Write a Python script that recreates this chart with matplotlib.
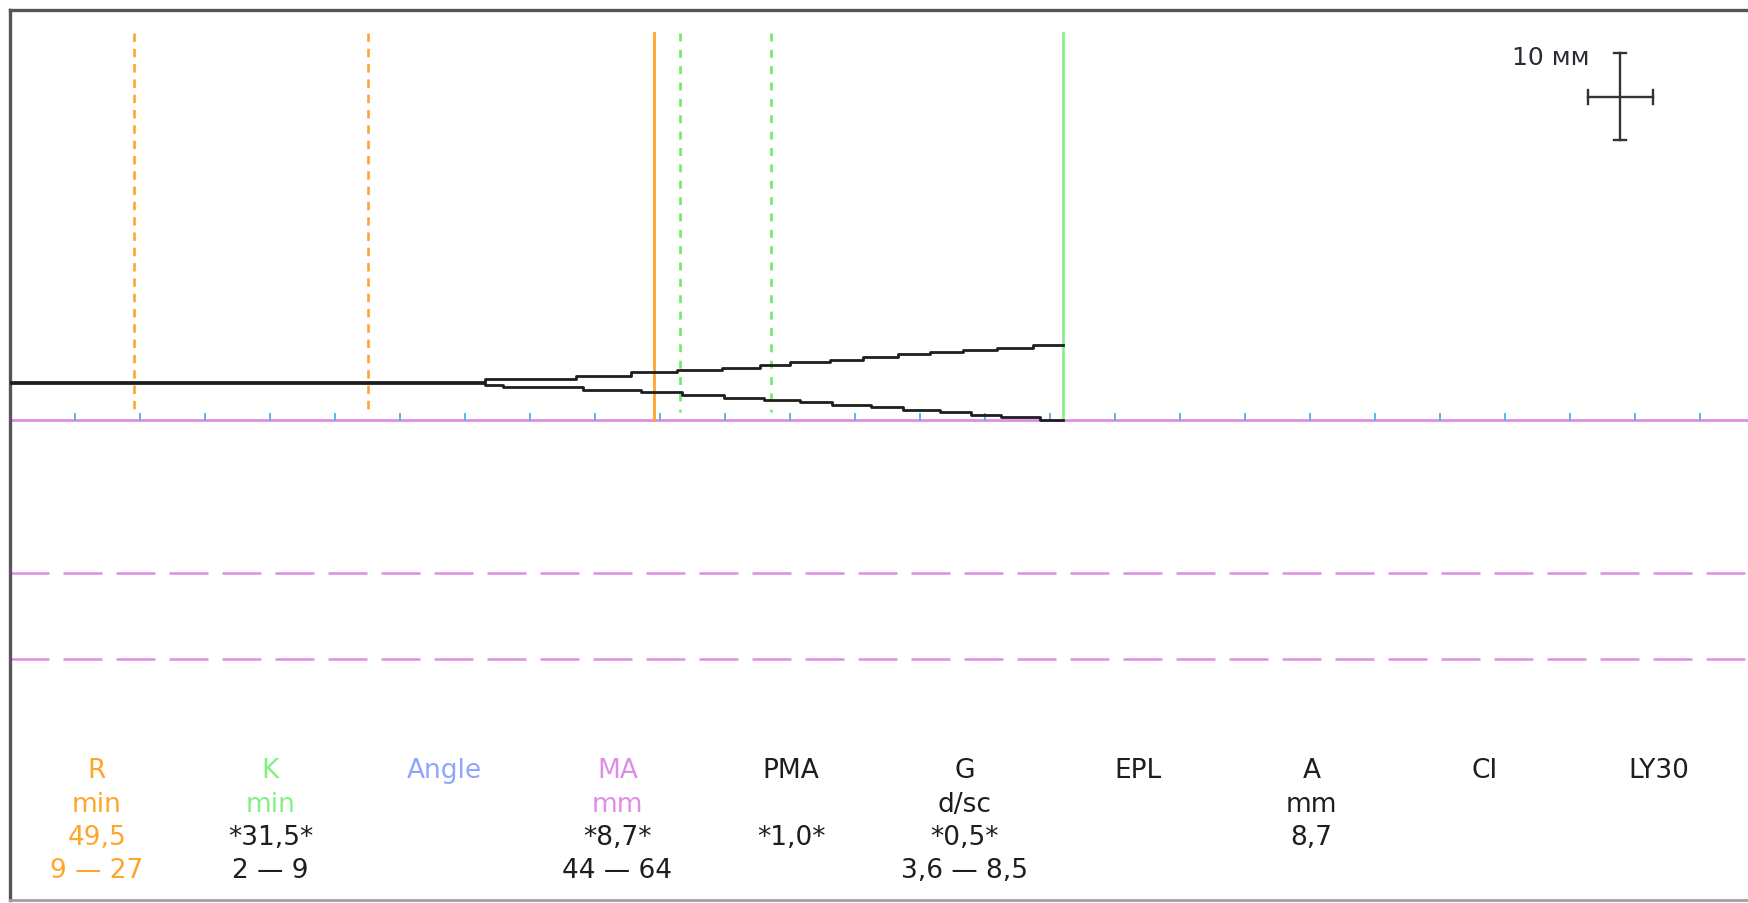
import numpy as np
import matplotlib
matplotlib.use('Agg')
import matplotlib.pyplot as plt

plt.rcParams['font.family'] = ['DejaVu Sans']

# ---- данные TEG ----
R_MIN = 49.5          # min
K_MIN = 31.5          # min
MA_MM = 8.7           # mm
R_LINES = [9.5, 27.5]         # пунктир R (норма)
K_LINES = [51.5, 58.5]        # пунктир K (R+2, R+9)
MA_NORM = [44, 64]            # норма MA, mm

upper_t = [0, 36.5, 43.5, 47.8, 51.3, 54.8, 57.7, 60.0, 63.1, 65.6, 68.3, 70.8, 73.3, 75.9, 78.7, 81.0]
upper_a = [0, 0.38, 0.76, 1.16, 1.39, 1.65, 2.00, 2.38, 2.61, 2.89, 3.27, 3.47, 3.77, 4.00, 4.31, 4.31]
lower_t = [0, 36.5, 37.9, 44.1, 48.5, 51.7, 54.9, 58.0, 60.8, 63.2, 66.2, 68.7, 71.5, 73.9, 76.2, 79.2, 81.0]
lower_a = [-0.1, -0.31, -0.58, -0.86, -1.16, -1.47, -1.78, -2.05, -2.31, -2.59, -2.89, -3.17, -3.47, -3.75,
           -4.05, -4.35, -4.35]

names = ['R', 'K', 'Angle', 'MA', 'PMA', 'G', 'EPL', 'A', 'CI', 'LY30']
units = ['min', 'min', '', 'mm', '', 'd/sc', '', 'mm', '', '']
values = ['49,5', '*31,5*', '', '*8,7*', '*1,0*', '*0,5*', '', '8,7', '', '']
ranges = ['9 — 27', '2 — 9', '', '44 — 64', '', '3,6 — 8,5', '', '', '', '']

ORANGE = '#FFA52C'
GREEN = '#84F084'
BLUE = '#8EA6FF'
VIOLET = '#DE8EE6'
DARK = '#1E1E1E'
TICK = '#5CB6E6'

name_colors = [ORANGE, GREEN, BLUE, VIOLET] + [DARK] * 6
unit_colors = [ORANGE, GREEN, BLUE, VIOLET] + [DARK] * 6
value_colors = [ORANGE] + [DARK] * 9
range_colors = [ORANGE] + [DARK] * 9

# ---- геометрия ----
W, H = 1748, 904
PX_MIN = 13.0
PX_MM = 8.65
Y0 = 383.3   # центр трассы, px
X0 = 10      # t = 0, px
TOP, BOT = 11, 901

fig = plt.figure(figsize=(W / 100, H / 100), dpi=100, facecolor='white')
ax = fig.add_axes([X0 / W, (H - BOT) / H, (W - X0) / W, (BOT - TOP) / H])
ax.set_xlim(0, (W - X0) / PX_MIN)
ax.set_ylim((Y0 - BOT) / PX_MM, (Y0 - TOP) / PX_MM)
ax.set_xticks([])
ax.set_yticks([])
ax.spines['right'].set_visible(False)
for s in ['left', 'top']:
    ax.spines[s].set_color('#555555')
    ax.spines[s].set_linewidth(2.4)
ax.spines['bottom'].set_color('#a0a0a0')
ax.spines['bottom'].set_linewidth(2.0)

v_top = (Y0 - 34) / PX_MM
base = -MA_MM / 2

# вертикальные линии
for t in R_LINES:
    ax.plot([t, t], [v_top, -3.4], color=ORANGE, lw=1.9, dashes=(3.2, 2.6), zorder=2)
for t in K_LINES:
    ax.plot([t, t], [v_top, -3.4], color='#66EE66', lw=1.9, dashes=(3.0, 3.2), zorder=2)
ax.plot([R_MIN, R_MIN], [v_top, base], color=ORANGE, lw=2.0, zorder=2)
ax.plot([R_MIN + K_MIN] * 2, [v_top, base], color=GREEN, lw=1.9, zorder=2)

# линии MA
ax.axhline(base, color=VIOLET, lw=2.0, zorder=1)
for m in MA_NORM:
    ax.axhline(-m / 2, color=VIOLET, lw=1.8, dashes=(15.6, 5.6), zorder=1)

# метки времени (каждые 5 мин)
for t in np.arange(5, 131, 5):
    ax.plot([t, t], [base, base + 0.7], color=TICK, lw=1.4, zorder=1.5)

# трасса
ax.plot(upper_t, upper_a, drawstyle='steps-post', color=DARK, lw=2.0, zorder=3)
ax.plot(lower_t, lower_a, drawstyle='steps-post', color=DARK, lw=2.0, zorder=3)

# масштабный крест 10 мм
cx, cy = (1620 - X0) / PX_MIN, (Y0 - 97.7) / PX_MM
ax.plot([cx, cx], [cy - 5, cy + 5], color='#333333', lw=1.7)
ax.plot([cx - 2.5, cx + 2.5], [cy, cy], color='#333333', lw=1.7)
for dy in (-5, 5):
    ax.plot([cx - 0.45, cx + 0.45], [cy + dy, cy + dy], color='#333333', lw=1.7)
for dx in (-2.5, 2.5):
    ax.plot([cx + dx, cx + dx], [cy - 0.8, cy + 0.8], color='#333333', lw=1.7)
ax.text((1551 - X0) / PX_MIN, (Y0 - 58) / PX_MM, '10 мм', ha='center', va='center',
        fontsize=18, color='#2e2a36')

# таблица параметров
col_x = [97 + 173.5 * i for i in range(len(names))]
row_y = [771, 805, 838, 871]
rows = [(names, name_colors), (units, unit_colors), (values, value_colors), (ranges, range_colors)]
for (texts, cols), y in zip(rows, row_y):
    for x, s, c in zip(col_x, texts, cols):
        if s:
            fig.text(x / W, 1 - y / H, s, ha='center', va='center', fontsize=19, color=c)

fig.savefig('out.png', dpi=100, facecolor='white')
